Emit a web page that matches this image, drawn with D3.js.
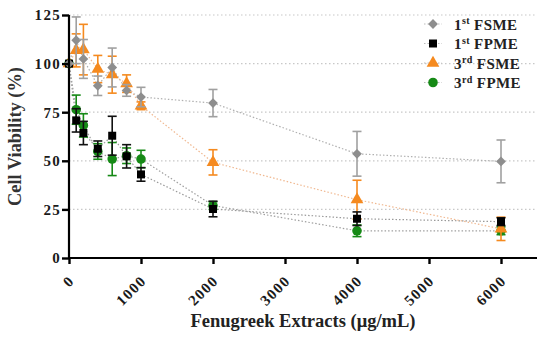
<!DOCTYPE html>
<html>
<head>
<meta charset="utf-8">
<script src="https://cdn.jsdelivr.net/npm/d3@7"></script>
<style>
  body { margin: 0; background: #fff; }
  text { font-family: "Liberation Serif", "DejaVu Serif", serif; font-weight: bold; }
</style>
</head>
<body>
<div id="app"></div>
<script>
// concentrations (ug/mL)
const conc = [0, 100, 200, 400, 600, 800, 1000, 2000, 4000, 6000];

// series values and error (SD)
const fsme1 = [100, 112, 102.4, 88.6, 98, 86.2, 82.8, 79.7, 53.6, 49.7];
const fsme1Err = [0, 12, 10, 5, 10, 3, 5, 7, 11.5, 11];
const fpme1 = [100, 70.8, 64.3, 56.2, 62.9, 52.3, 43, 25.2, 20.2, 18.7];
const fpme1Err = [0, 6, 6, 4, 10, 6, 3.5, 4, 3.5, 2];
const fsme3 = [100, 106.8, 107.2, 97.2, 94.3, 89.7, 78.3, 49.2, 30, 15];
const fsme3Err = [0, 8.5, 13, 7, 9.5, 4.5, 2, 6.5, 10, 6];
const fpme3 = [100, 76.3, 68.2, 54.8, 50.9, 52.6, 50.9, 27, 14, 14];
const fpme3Err = [0, 7.5, 6, 4, 8.5, 4, 4.5, 2, 3, 2];

const yTicks = [0, 25, 50, 75, 100, 125];
const xTicks = [0, 1000, 2000, 3000, 4000, 5000, 6000];

const series = [
  { sup: "st", name: "FSME", vals: fsme1, err: fsme1Err, color: "#8e8e8e", bar: "#a0a0a0", shape: "diamond", line: "#b0b0b0" },
  { sup: "st", name: "FPME", vals: fpme1, err: fpme1Err, color: "#000", bar: "#111", shape: "square", line: "#9a9a9a" },
  { sup: "rd", name: "FSME", vals: fsme3, err: fsme3Err, color: "#f58a1f", bar: "#f58a1f", shape: "triangle", line: "#f0b890" },
  { sup: "rd", name: "FPME", vals: fpme3, err: fpme3Err, color: "#168a16", bar: "#168a16", shape: "circle", line: "#a0a0a0" }
];

const W = 550, H = 345;
const svg = d3.select("#app").append("svg").attr("width", W).attr("height", H);

const x = d3.scaleLinear().domain([0, 6500]).range([69, 537]);
const y = d3.scaleLinear().domain([0, 125]).range([258, 15]);

//gridlines
svg.append("g").selectAll("line").data(yTicks.slice(1)).enter().append("line")
  .attr("x1", x(0)).attr("x2", x(6500))
  .attr("y1", d => y(d)).attr("y2", d => y(d))
  .style("stroke", "#c8c8c8").style("stroke-width", 1.2).style("stroke-dasharray", "1.5,2.5");

//symbol generator
const sym = (shape) => {
  if (shape === "diamond") return d3.symbol().type(d3.symbolSquare).size(48)();
  if (shape === "square") return d3.symbol().type(d3.symbolSquare).size(64)();
  if (shape === "triangle") return d3.symbol().type(d3.symbolTriangle).size(70)();
  return d3.symbol().type(d3.symbolCircle).size(72)();
};
const rot = (shape) => shape === "diamond" ? " rotate(45)" : "";

//dotted connecting lines
series.forEach(s => {
  const line = d3.line().x((d, i) => x(conc[i])).y(d => y(d));
  svg.append("path").attr("d", line(s.vals))
    .style("fill", "none").style("stroke", s.line)
    .style("stroke-width", 1.2).style("stroke-dasharray", "1.5,2");
});

//draw order: green, orange, black, gray
[3, 2, 1, 0].forEach(k => {
  const s = series[k];
  const g = svg.append("g");
  s.vals.forEach((v, i) => {
    const e = s.err[i];
    if (e > 0) {
      const cx = x(conc[i]);
      g.append("line").attr("x1", cx).attr("x2", cx).attr("y1", y(v + e)).attr("y2", y(v - e))
        .style("stroke", s.bar).style("stroke-width", 1.6);
      [v + e, v - e].forEach(t => {
        g.append("line").attr("x1", cx - 4.5).attr("x2", cx + 4.5).attr("y1", y(t)).attr("y2", y(t))
          .style("stroke", s.bar).style("stroke-width", 1.6);
      });
    }
    g.append("path").attr("d", sym(s.shape))
      .attr("transform", `translate(${x(conc[i])},${y(v)})${rot(s.shape)}`)
      .style("fill", s.color);
  });
});

//axes
const yAxis = svg.append("g").attr("transform", `translate(${x(0)},0)`)
  .call(d3.axisLeft(y).tickValues(yTicks).tickSize(7).tickPadding(1));
const xAxis = svg.append("g").attr("transform", `translate(0,${y(0)})`)
  .call(d3.axisBottom(x).tickValues(xTicks).tickSize(6).tickFormat(d3.format("d")));
[yAxis, xAxis].forEach(a => {
  a.select(".domain").style("stroke", "#000").style("stroke-width", 2.2);
  a.selectAll(".tick line").style("stroke", "#000").style("stroke-width", 2.4);
  a.selectAll("text").style("font-size", "15px").style("fill", "#1a1a1a")
    .style("letter-spacing", "1.3px")
    .style("font-family", "'Liberation Serif', serif").style("font-weight", "bold");
});
xAxis.select(".domain").attr("d", `M${x(0)},0H${x(6500)}`);
yAxis.select(".domain").attr("d", `M0,${y(125)}V${y(0)}`);
xAxis.selectAll(".tick text")
  .attr("text-anchor", "end")
  .attr("x", 0).attr("y", 0).attr("dy", "0.35em")
  .attr("transform", "translate(2,20) rotate(-45)");

//axis titles
svg.append("text").attr("x", 303).attr("y", 327).attr("text-anchor", "middle")
  .style("font-size", "18.5px").style("fill", "#222").text("Fenugreek Extracts (μg/mL)");
svg.append("text").attr("transform", `translate(21,${y(62.5)}) rotate(-90)`)
  .attr("text-anchor", "middle").style("font-size", "18.4px").style("fill", "#333")
  .text("Cell Viability (%)");

//legend
const leg = svg.append("g").attr("transform", "translate(433,24)");
series.forEach((s, i) => {
  const r = leg.append("g").attr("transform", `translate(0,${i * 19.5})`);
  r.append("line").attr("x1", -9).attr("x2", 9).attr("y1", 0).attr("y2", 0)
    .style("stroke", "#bbb").style("stroke-width", 1.2).style("stroke-dasharray", "1.5,2");
  r.append("path").attr("d", sym(s.shape)).attr("transform", `translate(0,0)${rot(s.shape)}`)
    .style("fill", s.color);
  const t = r.append("text").attr("x", 21).attr("y", 5.5).style("font-size", "15px")
    .style("letter-spacing", "0.4px").style("fill", "#222");
  t.append("tspan").text(i < 2 ? "1" : "3");
  t.append("tspan").attr("dy", -5.5).style("font-size", "10px").text(s.sup);
  t.append("tspan").attr("dy", 5.5).text(" " + s.name);
});
</script>
</body>
</html>
